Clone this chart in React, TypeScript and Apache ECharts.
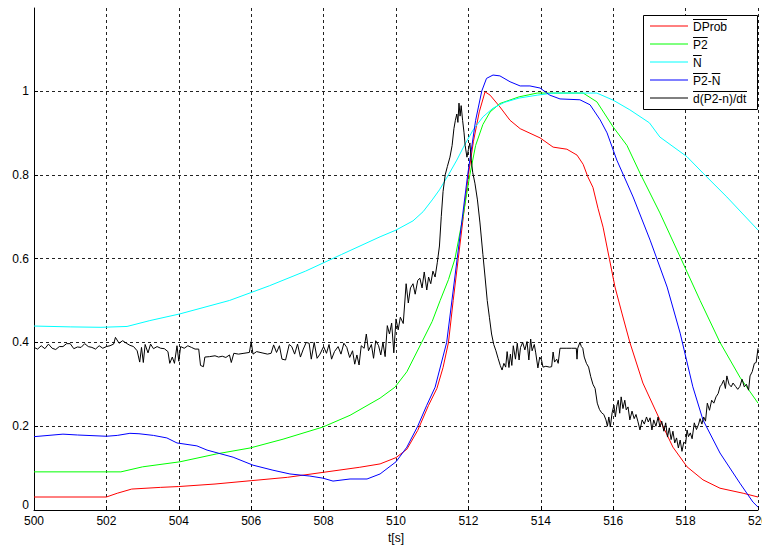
import React, { useEffect, useRef } from "react";
import * as echarts from "echarts";

const xTicks = { min: 500, max: 520, interval: 2 };
const yTicks = { min: 0, max: 1.198, interval: 0.2 };

const seriesNames = ["DProb", "P2", "N", "P2-N", "d(P2-n)/dt"];
const seriesColors = ["#ff0000", "#00ff00", "#00ffff", "#0000ff", "#000000"];

const dprob: [number, number][] = [
  [500, 0.031], [502, 0.031], [502.3, 0.04], [502.7, 0.05], [503.5, 0.054], [504, 0.056],
  [505, 0.062], [506, 0.07], [507, 0.078], [508, 0.09], [509, 0.102], [509.56, 0.11],
  [510, 0.125], [510.3, 0.145], [510.6, 0.19], [510.9, 0.25], [511.13, 0.29], [511.3, 0.34],
  [511.45, 0.4], [511.58, 0.5], [511.72, 0.6], [511.86, 0.7], [512.0, 0.8], [512.14, 0.88],
  [512.3, 0.95], [512.46, 0.998], [512.6, 0.99], [512.87, 0.962], [513.15, 0.93], [513.43, 0.91],
  [513.98, 0.888], [514.34, 0.866], [514.72, 0.861], [515.0, 0.847], [515.17, 0.825],
  [515.3, 0.795], [515.44, 0.77], [515.58, 0.72], [515.72, 0.675], [515.9, 0.597],
  [516.05, 0.532], [516.24, 0.47], [516.46, 0.4], [516.82, 0.303], [517.29, 0.215],
  [517.65, 0.15], [518.04, 0.103], [518.48, 0.072], [518.95, 0.052], [519.59, 0.04], [520, 0.031],
];

const p2: [number, number][] = [
  [500, 0.091], [502.4, 0.091], [503, 0.103], [504.03, 0.115], [505.05, 0.134], [505.97, 0.148],
  [506.88, 0.169], [507.98, 0.198], [508.73, 0.226], [509.56, 0.267], [509.97, 0.293],
  [510.3, 0.33], [510.71, 0.4], [511.0, 0.45], [511.22, 0.5], [511.45, 0.55], [511.63, 0.6],
  [511.85, 0.7], [512.04, 0.8], [512.2, 0.87], [512.4, 0.92], [512.6, 0.95], [512.87, 0.97],
  [513.4, 0.986], [513.9, 0.995], [515.17, 0.995], [515.55, 0.974], [516.0, 0.914],
  [516.38, 0.87], [516.74, 0.804], [517.29, 0.709], [517.85, 0.604], [518.4, 0.5],
  [518.95, 0.4], [519.5, 0.317], [520, 0.255],
];

const nBar: [number, number][] = [
  [500, 0.439], [501, 0.437], [501.85, 0.436], [502.57, 0.438], [503.2, 0.452], [504.03, 0.468],
  [505.4, 0.5], [506.5, 0.535], [507.5, 0.57], [508.5, 0.61], [509.56, 0.652], [510.0, 0.668],
  [510.47, 0.69], [510.75, 0.712], [511.0, 0.74], [511.2, 0.764], [511.45, 0.8], [511.68, 0.835],
  [511.9, 0.872], [512.13, 0.907], [512.4, 0.938], [512.68, 0.959], [513.0, 0.973],
  [513.4, 0.983], [513.9, 0.99], [514.34, 0.995], [515.55, 0.995], [516.0, 0.978], [516.46, 0.955],
  [517.0, 0.924], [517.29, 0.89], [518.04, 0.843], [518.48, 0.804], [519.14, 0.747], [520, 0.668],
];

const p2MinusN: [number, number][] = [
  [500, 0.175], [500.8, 0.181], [501.2, 0.179], [502, 0.176], [502.3, 0.178], [502.65, 0.183],
  [502.9, 0.182], [503.3, 0.178], [503.67, 0.172], [503.95, 0.16], [504.5, 0.153],
  [504.78, 0.143], [505.5, 0.126], [506.05, 0.107], [506.6, 0.095], [507.07, 0.086],
  [507.62, 0.081], [507.98, 0.076], [508.26, 0.069], [508.73, 0.074], [509.2, 0.074],
  [509.56, 0.086], [510, 0.115], [510.3, 0.15], [510.6, 0.2], [510.85, 0.25], [511.08, 0.293],
  [511.4, 0.4], [511.69, 0.6], [511.98, 0.8], [512.2, 0.93], [512.37, 1.0], [512.5, 1.03],
  [512.68, 1.038], [512.87, 1.036], [513.15, 1.022], [513.43, 1.012], [513.7, 1.012],
  [513.98, 1.007], [514.25, 0.99], [514.53, 0.981], [515.08, 0.979], [515.36, 0.967],
  [515.64, 0.931], [515.83, 0.9], [516.1, 0.835], [516.55, 0.747], [517.02, 0.644],
  [517.49, 0.532], [517.85, 0.422], [518.2, 0.294], [518.48, 0.215], [518.95, 0.136],
  [519.5, 0.064], [519.86, 0.019], [520, 0.007],
];

const dDt: [number, number][] = [
  [500.0, 0.388], [500.1, 0.384], [500.2, 0.392], [500.3, 0.385], [500.4, 0.396], [500.5, 0.386],
  [500.6, 0.383], [500.7, 0.39], [500.8, 0.39], [500.9, 0.397], [501.0, 0.397], [501.1, 0.385],
  [501.2, 0.389], [501.3, 0.388], [501.4, 0.397], [501.5, 0.39], [501.6, 0.388], [501.7, 0.384],
  [501.8, 0.392], [501.9, 0.386], [502.0, 0.39], [502.1, 0.392], [502.2, 0.396], [502.25, 0.412],
  [502.35, 0.398], [502.45, 0.404], [502.55, 0.398], [502.65, 0.393], [502.75, 0.39],
  [502.85, 0.38], [502.92, 0.353], [502.97, 0.388], [503.02, 0.352], [503.07, 0.395],
  [503.15, 0.375], [503.22, 0.396], [503.3, 0.385], [503.4, 0.39], [503.5, 0.386], [503.6, 0.385],
  [503.7, 0.378], [503.75, 0.35], [503.82, 0.365], [503.88, 0.35], [503.95, 0.392], [504.0, 0.355],
  [504.05, 0.39], [504.15, 0.386], [504.25, 0.392], [504.35, 0.388], [504.45, 0.384],
  [504.55, 0.384], [504.6, 0.345], [504.68, 0.342], [504.72, 0.365], [504.85, 0.366],
  [505.0, 0.368], [505.1, 0.365], [505.2, 0.367], [505.3, 0.364], [505.4, 0.37], [505.45, 0.352],
  [505.52, 0.374], [505.65, 0.372], [505.8, 0.374], [505.95, 0.376], [506.0, 0.402],
  [506.05, 0.372], [506.15, 0.378], [506.3, 0.375], [506.45, 0.372], [506.55, 0.374],
  [506.62, 0.394], [506.7, 0.376], [506.78, 0.392], [506.85, 0.36], [506.95, 0.358],
  [507.05, 0.395], [507.12, 0.39], [507.2, 0.372], [507.28, 0.396], [507.36, 0.365],
  [507.44, 0.384], [507.52, 0.4], [507.6, 0.398], [507.66, 0.36], [507.74, 0.4], [507.82, 0.362],
  [507.9, 0.372], [508.0, 0.39], [508.08, 0.374], [508.15, 0.395], [508.22, 0.36], [508.3, 0.378],
  [508.4, 0.39], [508.48, 0.372], [508.56, 0.398], [508.64, 0.388], [508.72, 0.364], [508.8, 0.38],
  [508.86, 0.348], [508.92, 0.37], [508.98, 0.346], [509.04, 0.392], [509.12, 0.386],
  [509.18, 0.42], [509.24, 0.38], [509.32, 0.395], [509.38, 0.362], [509.44, 0.404],
  [509.52, 0.392], [509.58, 0.37], [509.64, 0.4], [509.7, 0.366], [509.76, 0.44], [509.82, 0.42],
  [509.88, 0.446], [509.94, 0.375], [510.0, 0.456], [510.06, 0.43], [510.12, 0.46],
  [510.2, 0.445], [510.28, 0.54], [510.34, 0.494], [510.4, 0.53], [510.47, 0.54], [510.53, 0.515],
  [510.6, 0.548], [510.66, 0.553], [510.72, 0.53], [510.78, 0.568], [510.85, 0.525],
  [510.9, 0.556], [510.96, 0.54], [511.02, 0.57], [511.08, 0.556], [511.14, 0.59], [511.2, 0.63],
  [511.25, 0.7], [511.3, 0.76], [511.36, 0.8], [511.42, 0.82], [511.49, 0.842], [511.55, 0.87],
  [511.6, 0.91], [511.64, 0.93], [511.68, 0.945], [511.71, 0.925], [511.74, 0.971],
  [511.77, 0.94], [511.8, 0.965], [511.84, 0.93], [511.88, 0.9], [511.91, 0.87], [511.96, 0.842],
  [512.0, 0.86], [512.04, 0.876], [512.08, 0.835], [512.12, 0.805], [512.18, 0.78],
  [512.25, 0.74], [512.32, 0.685], [512.4, 0.61], [512.46, 0.556], [512.52, 0.5], [512.58, 0.46],
  [512.64, 0.42], [512.7, 0.395], [512.76, 0.38], [512.82, 0.362], [512.88, 0.345],
  [512.93, 0.334], [512.98, 0.35], [513.03, 0.341], [513.07, 0.378], [513.12, 0.34],
  [513.16, 0.372], [513.2, 0.345], [513.24, 0.392], [513.3, 0.36], [513.35, 0.398], [513.4, 0.358],
  [513.44, 0.388], [513.5, 0.4], [513.56, 0.382], [513.62, 0.402], [513.67, 0.358],
  [513.72, 0.408], [513.76, 0.38], [513.82, 0.395], [513.86, 0.375], [513.92, 0.339],
  [513.97, 0.365], [514.02, 0.358], [514.06, 0.341], [514.14, 0.343], [514.24, 0.341],
  [514.3, 0.342], [514.34, 0.377], [514.38, 0.353], [514.44, 0.36], [514.48, 0.35],
  [514.53, 0.386], [514.7, 0.386], [514.85, 0.386], [514.98, 0.386], [515.0, 0.36],
  [515.02, 0.386], [515.08, 0.4], [515.12, 0.39], [515.16, 0.386], [515.2, 0.365], [515.26, 0.35],
  [515.32, 0.341], [515.38, 0.318], [515.44, 0.3], [515.5, 0.29], [515.56, 0.255], [515.62, 0.24],
  [515.68, 0.232], [515.74, 0.228], [515.8, 0.215], [515.84, 0.2], [515.88, 0.222],
  [515.92, 0.198], [515.97, 0.232], [516.02, 0.25], [516.06, 0.222], [516.1, 0.248],
  [516.14, 0.262], [516.18, 0.231], [516.22, 0.27], [516.27, 0.242], [516.32, 0.262],
  [516.36, 0.239], [516.41, 0.246], [516.46, 0.215], [516.52, 0.236], [516.58, 0.218],
  [516.63, 0.228], [516.68, 0.212], [516.74, 0.191], [516.8, 0.215], [516.86, 0.205],
  [516.92, 0.222], [516.97, 0.21], [517.02, 0.22], [517.07, 0.191], [517.12, 0.215],
  [517.18, 0.2], [517.24, 0.222], [517.29, 0.198], [517.34, 0.212], [517.4, 0.188],
  [517.45, 0.208], [517.5, 0.174], [517.55, 0.196], [517.6, 0.168], [517.65, 0.188],
  [517.7, 0.16], [517.75, 0.172], [517.8, 0.148], [517.85, 0.167], [517.9, 0.14], [517.95, 0.162],
  [518.0, 0.158], [518.04, 0.191], [518.08, 0.175], [518.13, 0.184], [518.18, 0.17],
  [518.24, 0.208], [518.3, 0.192], [518.36, 0.205], [518.4, 0.218], [518.45, 0.205],
  [518.5, 0.222], [518.55, 0.212], [518.6, 0.255], [518.66, 0.238], [518.72, 0.262],
  [518.78, 0.255], [518.84, 0.27], [518.9, 0.278], [518.95, 0.294], [519.0, 0.3], [519.05, 0.31],
  [519.1, 0.29], [519.14, 0.32], [519.2, 0.3], [519.26, 0.294], [519.31, 0.303], [519.38, 0.295],
  [519.44, 0.288], [519.5, 0.295], [519.56, 0.312], [519.62, 0.294], [519.68, 0.3],
  [519.74, 0.286], [519.78, 0.32], [519.84, 0.33], [519.9, 0.35], [519.95, 0.352], [520.0, 0.386],
];

const seriesData = [dprob, p2, nBar, p2MinusN, dDt];

// legend layout (pixels)
const LEG = { x: 643, y: 15, w: 114, h: 94, lineX1: 650, lineX2: 688, textX: 693, rowY0: 25.5, rowGap: 18 };
// overline spans relative to text start, per legend row
const overlines: [number, number][][] = [
  [[0, 34]],
  [[0, 14.7]],
  [[0, 8.7]],
  [[0, 14.7], [18.7, 27.4]],
  [[0, 54]],
];

export default function App() {
  const ref = useRef<HTMLDivElement>(null);
  useEffect(() => {
    document.body.style.margin = "0";
    const chart = echarts.init(ref.current!, null, { renderer: "svg" });
    const font = "'Liberation Sans', Arial, sans-serif";
    const graphics: any[] = [
      {
        type: "rect",
        shape: { x: LEG.x + 0.5, y: LEG.y + 0.5, width: LEG.w, height: LEG.h },
        style: { fill: "#fff", stroke: "#000", lineWidth: 1 },
        z: 100,
      },
    ];
    seriesNames.forEach((name, i) => {
      const cy = LEG.rowY0 + i * LEG.rowGap + 0.5;
      graphics.push({
        type: "line",
        shape: { x1: LEG.lineX1, y1: cy, x2: LEG.lineX2, y2: cy },
        style: { stroke: seriesColors[i], lineWidth: 1 },
        z: 101,
      });
      graphics.push({
        type: "text",
        x: LEG.textX,
        y: cy + 1,
        style: { text: name, fill: "#000", font: `12px ${font}`, verticalAlign: "middle" },
        z: 101,
      });
      overlines[i].forEach(([a, b]) => {
        graphics.push({
          type: "line",
          shape: { x1: LEG.textX + a, y1: cy - 6.5, x2: LEG.textX + b, y2: cy - 6.5 },
          style: { stroke: "#000", lineWidth: 1 },
          z: 101,
        });
      });
    });

    chart.setOption({
      animation: false,
      backgroundColor: "#fff",
      grid: { left: 34, right: 4, top: 8, bottom: 36, containLabel: false, outerBoundsMode: "none" },
      xAxis: {
        type: "value",
        min: xTicks.min,
        max: xTicks.max,
        interval: xTicks.interval,
        name: "t[s]",
        nameLocation: "middle",
        nameGap: 20,
        nameTextStyle: { color: "#000", fontSize: 12, fontFamily: font },
        axisLine: { show: true, lineStyle: { color: "#000", width: 1 } },
        axisTick: { show: true, inside: true, length: 4, lineStyle: { color: "#000" } },
        axisLabel: { color: "#000", fontSize: 12, fontFamily: font, margin: 5, hideOverlap: false },
        splitLine: { show: true, lineStyle: { color: "#222", type: [3, 3], width: 1 } },
      },
      yAxis: {
        type: "value",
        min: yTicks.min,
        max: yTicks.max,
        interval: yTicks.interval,
        axisLine: { show: true, onZero: false, lineStyle: { color: "#000", width: 1 } },
        axisTick: { show: true, inside: true, length: 4, lineStyle: { color: "#000" } },
        axisLabel: {
          color: "#000",
          fontSize: 12,
          fontFamily: font,
          margin: 5,
          showMaxLabel: false,
          formatter: (v: number) => (v === 0 ? "{z|0}" : String(Math.round(v * 10) / 10)),
          rich: { z: { fontSize: 12, fontFamily: font, color: "#000", padding: [0, 0, 10, 0] } },
        },
        splitLine: { show: true, showMaxLine: false, lineStyle: { color: "#222", type: [3, 3], width: 1 } },
      },
      series: seriesNames.map((name, i) => ({
        name,
        type: "line",
        data: seriesData[i],
        showSymbol: false,
        symbol: "none",
        smooth: false,
        lineStyle: { color: seriesColors[i], width: 1 },
        itemStyle: { color: seriesColors[i] },
        z: 2 + i,
      })),
      graphic: graphics,
    });
    return () => chart.dispose();
  }, []);
  return <div ref={ref} style={{ width: 762, height: 546, position: "absolute", left: 0, top: 0 }} />;
}
